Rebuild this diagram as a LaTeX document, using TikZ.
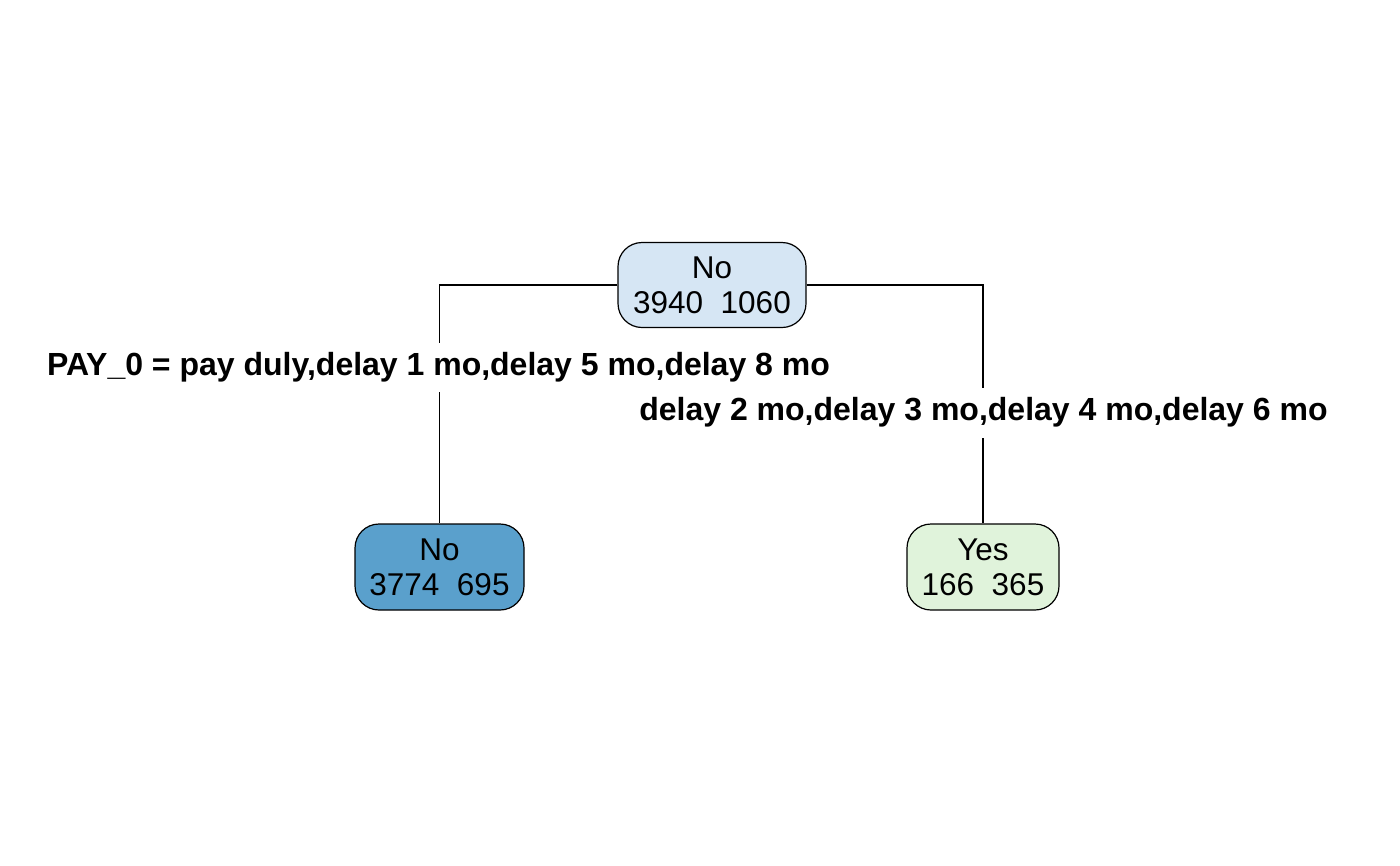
\documentclass[tikz,border=0pt]{standalone}
\usepackage{fontspec}
\setmainfont{Liberation Sans}
\usetikzlibrary{positioning}
\definecolor{rootfill}{HTML}{D6E6F4}
\definecolor{leftfill}{HTML}{5AA0CC}
\definecolor{rightfill}{HTML}{E0F3DB}
\tikzset{
  treenode/.style={draw=black, line width=1.2pt, rounded corners=24pt, align=center,
    font=\fontsize{31.5}{35}\selectfont, inner sep=0pt},
  splitlab/.style={font=\fontsize{32}{36}\selectfont\bfseries, inner sep=0pt},
  edge/.style={line width=1.2pt}
}
\begin{document}
\begin{tikzpicture}[x=1pt,y=-1pt]
\useasboundingbox (0,0) rectangle (1400,865);
\node[treenode, fill=rootfill, minimum width=188pt, minimum height=85pt] (root) at (712,285) {No\\3940\ \ 1060};
\node[treenode, fill=leftfill, minimum width=169pt, minimum height=86pt] (left) at (439.5,567) {No\\3774\ \ 695};
\node[treenode, fill=rightfill, minimum width=152pt, minimum height=86pt] (right) at (983,567) {Yes\\166\ \ 365};
\node[splitlab] (labl) at (438.5,367) {PAY\_0 = pay duly,delay 1 mo,delay 5 mo,delay 8 mo};
\node[splitlab] (labr) at (983.5,412) {delay 2 mo,delay 3 mo,delay 4 mo,delay 6 mo};
\coordinate (l1) at (439.5,343);
\coordinate (l2) at (439.5,392);
\coordinate (r1) at (983,388);
\coordinate (r2) at (983,438);
\draw[edge] (root.west) -| (l1);
\draw[edge] (l2) -- (left.north);
\draw[edge] (root.east) -| (r1);
\draw[edge] (r2) -- (right.north);
\end{tikzpicture}
\end{document}
